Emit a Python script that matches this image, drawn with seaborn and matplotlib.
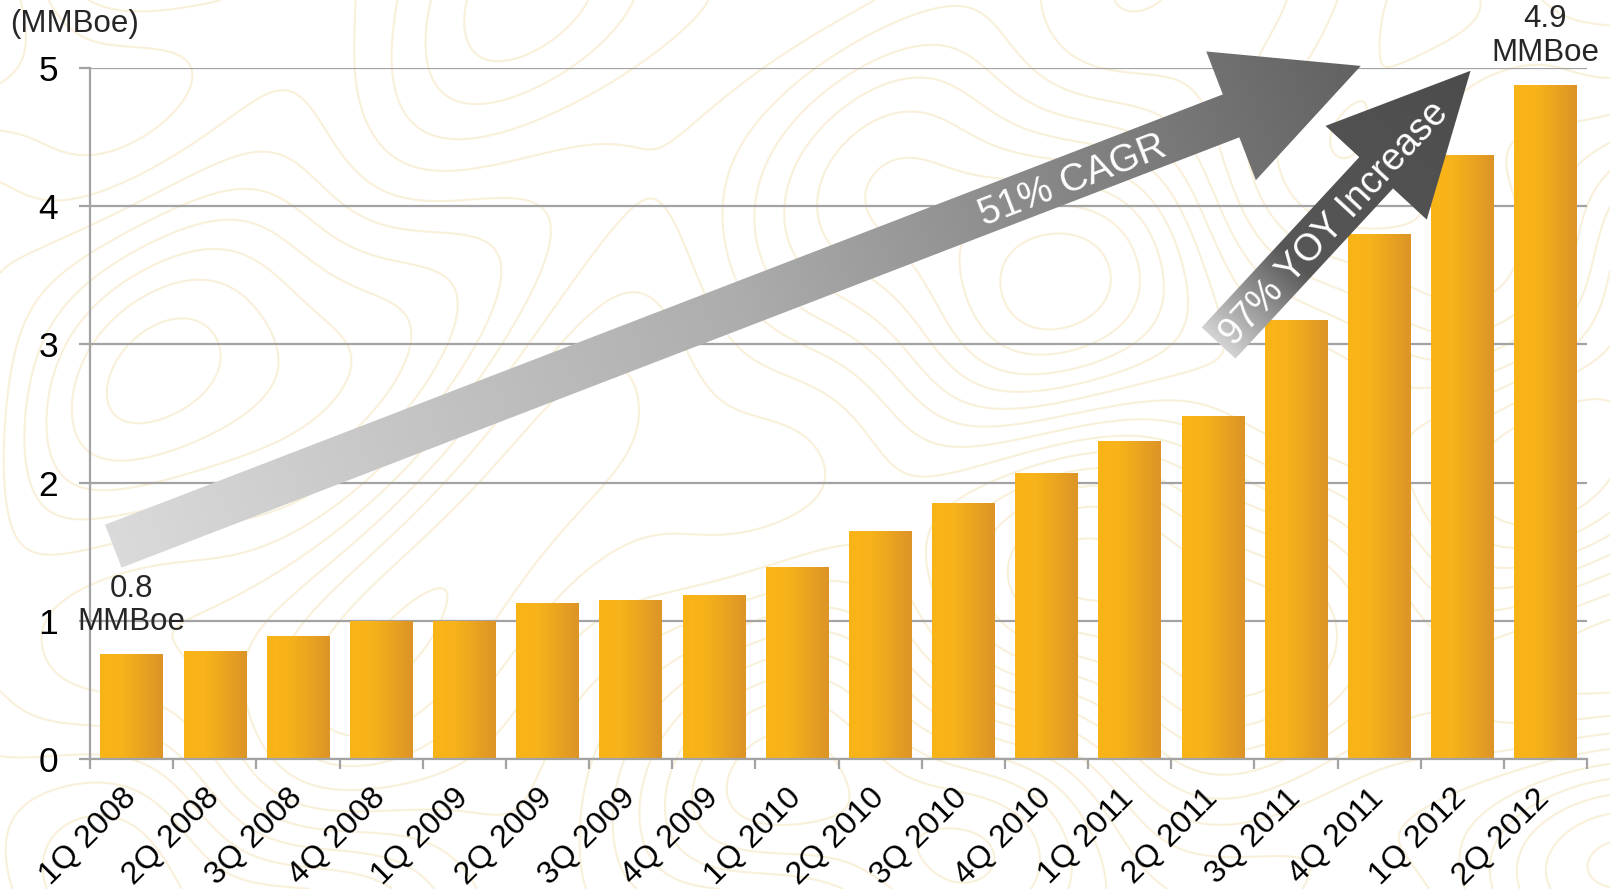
import numpy as np
import pandas as pd
import matplotlib
matplotlib.use("Agg")
import matplotlib.pyplot as plt
import seaborn as sns
from matplotlib.colors import LinearSegmentedColormap
from matplotlib.patches import Polygon

# Quarterly production, MMBoe
quarters = ["1Q 2008", "2Q 2008", "3Q 2008", "4Q 2008",
            "1Q 2009", "2Q 2009", "3Q 2009", "4Q 2009",
            "1Q 2010", "2Q 2010", "3Q 2010", "4Q 2010",
            "1Q 2011", "2Q 2011", "3Q 2011", "4Q 2011",
            "1Q 2012", "2Q 2012"]
production = [0.76, 0.78, 0.89, 1.00,
              1.00, 1.13, 1.15, 1.19,
              1.39, 1.65, 1.85, 2.07,
              2.30, 2.48, 3.18, 3.80,
              4.37, 4.88]
y_ticks = [0, 1, 2, 3, 4, 5]
unit_label = "(MMBoe)"
cagr_text = "51% CAGR"
yoy_text = "97% YOY Increase"

sns.set_theme(style="white")
plt.rcParams["font.family"] = ["Liberation Sans", "DejaVu Sans"]

W, H = 1610, 889
GRAY = "#A3A3A3"
fig = plt.figure(figsize=(W / 100, H / 100), dpi=100)
fig.patch.set_facecolor("white")

# faint topographic texture behind the chart
bg = fig.add_axes([0, 0, 1, 1], zorder=0)
gx = np.linspace(0, 16.1, 700)
gy = np.linspace(0, 8.89, 400)
GX, GY = np.meshgrid(gx, gy)
Z = (np.sin(0.85 * GX + 1.3 * np.sin(0.65 * GY))
     + np.cos(1.05 * GY + 0.9 * np.sin(0.55 * GX))
     + 0.6 * np.sin(0.35 * GX * GY / 3.0 + 0.8)
     + 0.25 * np.sin(2.1 * GX - 1.4 * GY))
bg.contour(GX, GY, Z, levels=13, colors="#F3DFAE", linewidths=1.5,
           alpha=0.45, negative_linestyles="solid")
bg.set_xlim(0, 16.1)
bg.set_ylim(0, 8.89)
bg.set_axis_off()

# main bar axes
ax = fig.add_axes([90 / W, 1 - 759 / H, (1587 - 90) / W, (759 - 68) / H], zorder=1)
ax.patch.set_alpha(0)
df = pd.DataFrame({"quarter": quarters, "mmboe": production})
sns.barplot(data=df, x="quarter", y="mmboe", ax=ax, width=0.75,
            color="#F9B418", saturation=1, zorder=2)

# horizontal gold gradient inside every bar
bar_cmap = LinearSegmentedColormap.from_list(
    "gold", [(0.0, "#F9B517"), (0.35, "#F7B31A"), (1.0, "#DC9427")])
grad = np.linspace(0, 1, 256).reshape(1, -1)
for p in list(ax.patches):
    x0, w, h = p.get_x(), p.get_width(), p.get_height()
    im = ax.imshow(grad, cmap=bar_cmap, extent=[x0, x0 + w, 0, h],
                   aspect="auto", zorder=2.5, interpolation="bilinear")
    im.set_clip_path(p)
    p.set_facecolor("none")
    p.set_edgecolor("none")

ax.set_xlim(-0.5, len(quarters) - 0.5)
ax.set_ylim(0, 5)
ax.set_xlabel("")
ax.set_ylabel("")

# axes styling
for side in ("top", "right"):
    ax.spines[side].set_visible(False)
for side in ("left", "bottom"):
    ax.spines[side].set_color(GRAY)
    ax.spines[side].set_linewidth(1.6)
ax.yaxis.grid(True, color=GRAY, linewidth=1.6)
ax.xaxis.grid(False)
ax.set_axisbelow(True)

ax.set_yticks(y_ticks)
ax.set_yticklabels([str(t) for t in y_ticks])
ax.tick_params(axis="y", which="major", left=True, length=8, width=1.6,
               color=GRAY, pad=15, labelsize=25.5, labelcolor="black")

ax.set_xticks(range(len(quarters)))
ax.set_xticklabels(quarters)
ax.set_xticks(np.arange(-0.5, len(quarters), 1.0), minor=True)
ax.tick_params(axis="x", which="major", bottom=True, length=0, pad=25,
               labelsize=23, labelcolor="black")
ax.tick_params(axis="x", which="minor", bottom=True, length=7, width=1.6,
               color=GRAY)
for lbl in ax.get_xticklabels():
    lbl.set_rotation(45)
    lbl.set_ha("right")
    lbl.set_va("center")
    lbl.set_rotation_mode("anchor")

# value callouts on the first and last quarters
for i in (0, len(production) - 1):
    ax.annotate(f"{production[i]:.1f}\nMMBoe", xy=(i, production[i]),
                xytext=(0, 12), textcoords="offset points",
                ha="center", va="bottom", fontsize=22.5, linespacing=1.15,
                annotation_clip=False, zorder=6)

fig.text(10 / W, 1 - 24 / H, unit_label, ha="left", va="center", fontsize=22.5)

# overlay in pixel units for the growth arrows
ov = fig.add_axes([0, 0, 1, 1], zorder=3)
ov.set_xlim(0, W)
ov.set_ylim(0, H)
ov.set_axis_off()
ov.patch.set_alpha(0)


def growth_arrow(tail, tip, cmap, label, frac, size):
    T = ax.transData.transform(tail)
    P = ax.transData.transform(tip)
    d = P - T
    L = np.hypot(*d)
    u = d / L
    n = np.array([-u[1], u[0]])
    half, head_half, head_len = 23, 69, 139
    B = P - u * head_len
    pts = np.array([T + n * half, B + n * half, B + n * head_half, P,
                    B - n * head_half, B - n * half, T - n * half])
    poly = Polygon(pts, closed=True, facecolor="none", edgecolor="none")
    ov.add_patch(poly)
    x0, x1 = pts[:, 0].min(), pts[:, 0].max()
    y0, y1 = pts[:, 1].min(), pts[:, 1].max()
    mx, my = np.meshgrid(np.linspace(x0, x1, 500), np.linspace(y0, y1, 500))
    t = ((mx - T[0]) * u[0] + (my - T[1]) * u[1]) / L
    im = ov.imshow(t, cmap=cmap, vmin=0, vmax=1, extent=[x0, x1, y0, y1],
                   origin="lower", aspect="auto", zorder=2,
                   interpolation="bilinear")
    im.set_clip_path(poly)
    C = T + d * frac
    ang = np.degrees(np.arctan2(u[1], u[0]))
    ov.text(C[0], C[1], label, rotation=ang, rotation_mode="anchor",
            ha="center", va="center_baseline", color="white", fontsize=size,
            zorder=4)


cagr_cmap = LinearSegmentedColormap.from_list(
    "cagr", [(0.0, "#DADADA"), (0.5, "#ADADAD"), (1.0, "#626262")])
yoy_cmap = LinearSegmentedColormap.from_list(
    "yoy", [(0.0, "#D2D2D2"), (0.3, "#575757"), (1.0, "#4C4C4C")])

growth_arrow((-0.22, 1.54), (14.78, 5.015), cagr_cmap, cagr_text, 0.768, 27.5)
growth_arrow((13.07, 3.01), (16.10, 4.98), yoy_cmap, yoy_text, 0.45, 27)

fig.savefig("out.png", dpi=100, facecolor="white")
